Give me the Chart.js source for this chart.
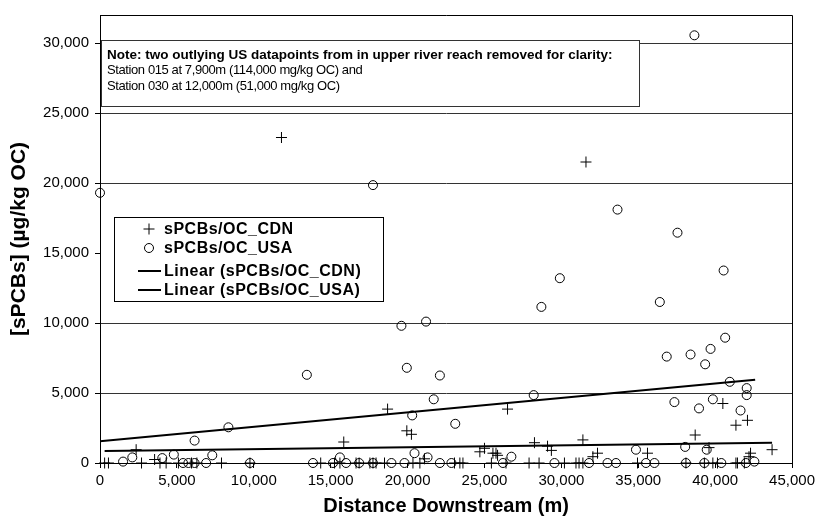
<!DOCTYPE html>
<html>
<head>
<meta charset="utf-8">
<script src="https://cdn.jsdelivr.net/npm/chart.js@4.4.1/dist/chart.umd.min.js"></script>
<style>
  html, body { margin: 0; padding: 0; background: #fff; }
  #wrap { width: 819px; height: 521px; }
</style>
</head>
<body>
<div id="wrap"><canvas id="pcbChart" width="819" height="521"></canvas></div>
<script>
// values (distance in m, sPCBs in ug/kg OC)
const cdnX = [11800, 31600, 40500, 26500, 42100, 41350, 18700, 15850, 19950, 20250,
  2350, 28250, 29100, 29350, 31400, 38700, 39600, 35600, 42300, 43700,
  24700, 25000, 25550, 25750, 25850, 21100, 3550, 32050, 32350, 42200,
  300, 550, 2700, 3900, 4300, 5100, 5950, 6300, 7900, 9750,
  14350, 15250, 15600, 16650, 16850, 17550, 17750, 17950, 18500, 20350,
  20800, 23050, 23400, 23600, 25450, 26400, 27900, 28550, 30200, 30950,
  31150, 31400, 34950, 38100, 39300, 39850, 40150, 41350, 41450, 41900];
const cdnY = [23250, 21500, 4250, 3850, 3050, 2700, 3850, 1500, 2300, 2050,
  950, 1450, 1200, 900, 1650, 2000, 1100, 700, 700, 950,
  800, 1050, 700, 700, 550, 300, 250, 450, 700, 450,
  0, 0, 0, 0, 0, 0, 0, 0, 0, 0,
  0, 0, 0, 0, 0, 0, 0, 0, 0, 0,
  0, 0, 0, 0, 0, 0, 0, 0, 0, 0,
  0, 0, 0, 0, 0, 0, 0, 0, 0, 0];

const usaX = [0, 38650, 17750, 19600, 21200, 33650, 37550, 40550, 29900, 28700,
  36400, 40650, 36850, 38400, 39700, 39350, 22100, 40950, 42050, 42050,
  21700, 28200, 37350, 38950, 39850, 41650, 23100, 13450, 19950, 20300,
  8350, 6150, 1500, 2100, 4050, 4800, 5400, 5750, 6150, 6900,
  7300, 9750, 13850, 15150, 15600, 16000, 16850, 17750, 18950, 19800,
  20450, 21300, 22100, 22850, 26200, 26750, 29550, 31800, 33000, 33550,
  34850, 35500, 36050, 38050, 38100, 39300, 39450, 40400, 42000, 42550];
const usaY = [19300, 30550, 19850, 9800, 10100, 18100, 16450, 13750, 13200, 11150,
  11500, 8950, 7600, 7750, 8150, 7050, 6250, 5800, 5350, 4850,
  4550, 4850, 4350, 3900, 4550, 3750, 2800, 6300, 6800, 3400,
  2550, 1600, 100, 400, 350, 600, 0, 0, 0, 0,
  550, 0, 0, 0, 400, 0, 0, 0, 0, 0,
  700, 400, 0, 0, 0, 450, 0, 0, 0, 0,
  950, 0, 0, 1150, 0, 0, 950, 0, 0, 100];

// end points of the two linear trend lines
const cdnTrendX = [300, 43700];
const cdnTrendY = [850, 1450];
const usaTrendX = [0, 42600];
const usaTrendY = [1550, 5950];

const xTicks = [0, 5000, 10000, 15000, 20000, 25000, 30000, 35000, 40000, 45000];
const yTicks = [0, 5000, 10000, 15000, 20000, 25000, 30000];

const noteTitle = 'Note: two outlying US datapoints from in upper river reach removed for clarity:';
const noteLines = ['Station 015 at 7,900m (114,000 mg/kg OC) and', 'Station 030 at 12,000m (51,000 mg/kg OC)'];

const FONT = "'Liberation Sans', Arial, sans-serif";

function toPoints(xs, ys) {
  return xs.map((x, i) => ({ x: x, y: ys[i] }));
}

// plot frame, note box and legend drawn on the canvas
const chartExtras = {
  id: 'chartExtras',
  beforeDatasetsDraw(chart) {
    const { ctx, chartArea: a } = chart;
    ctx.save();
    ctx.strokeStyle = '#000';
    ctx.lineWidth = 1;
    ctx.beginPath();
    ctx.moveTo(a.left, a.top + 0.5);
    ctx.lineTo(Math.round(a.right) + 0.5, a.top + 0.5);
    ctx.lineTo(Math.round(a.right) + 0.5, a.bottom + 4);
    ctx.stroke();
    // y axis crosses a little below the x axis
    ctx.beginPath();
    ctx.moveTo(Math.round(a.left) + 0.5, a.bottom);
    ctx.lineTo(Math.round(a.left) + 0.5, a.bottom + 4);
    ctx.stroke();
    ctx.restore();
  },
  afterDatasetsDraw(chart) {
    const { ctx, chartArea: a } = chart;
    ctx.save();

    // note box
    const nx = a.left + 1.5, ny = 40.5, nw = 538, nh = 66;
    ctx.fillStyle = '#fff';
    ctx.fillRect(nx, ny, nw, nh);
    ctx.strokeStyle = '#333';
    ctx.lineWidth = 1;
    ctx.strokeRect(nx, ny, nw, nh);
    ctx.fillStyle = '#000';
    ctx.textBaseline = 'middle';
    ctx.textAlign = 'left';
    ctx.font = 'bold 13.5px ' + FONT;
    ctx.fillText(noteTitle, a.left + 7, 55);
    ctx.font = '13px ' + FONT;
    if ('letterSpacing' in ctx) ctx.letterSpacing = '-0.4px';
    noteLines.forEach((t, i) => ctx.fillText(t, a.left + 7, 70 + i * 16));

    // legend box
    const lx = 114.5, ly = 217.5, lw = 269, lh = 84;
    ctx.fillStyle = '#fff';
    ctx.fillRect(lx, ly, lw, lh);
    ctx.strokeStyle = '#000';
    ctx.strokeRect(lx, ly, lw, lh);
    const rows = [229, 248, 271, 290];
    ctx.font = 'bold 16px ' + FONT;
    if ('letterSpacing' in ctx) ctx.letterSpacing = '0.5px';
    chart.data.datasets.forEach((ds, i) => {
      const y = rows[i];
      ctx.strokeStyle = '#000';
      if (ds.type === 'line') {
        ctx.lineWidth = 2;
        ctx.beginPath();
        ctx.moveTo(138, y);
        ctx.lineTo(161, y);
        ctx.stroke();
      } else {
        ctx.lineWidth = 1;
        ctx.fillStyle = '#fff';
        Chart.helpers.drawPoint(ctx, {
          pointStyle: ds.pointStyle, radius: ds.pointRadius, borderWidth: 1
        }, 149, y);
      }
      ctx.fillStyle = '#000';
      ctx.fillText(ds.label, 164, y + 1);
    });
    if ('letterSpacing' in ctx) ctx.letterSpacing = '0px';
    ctx.restore();
  }
};

const ctxPcb = document.getElementById('pcbChart').getContext('2d');
const pcbChart = new Chart(ctxPcb, {
  type: 'scatter',
  data: {
    datasets: [{
      label: 'sPCBs/OC_CDN',
      data: toPoints(cdnX, cdnY),
      pointStyle: 'cross',
      pointRadius: 5.5,
      borderColor: '#000',
      backgroundColor: 'rgba(0,0,0,0)',
      borderWidth: 1
    }, {
      label: 'sPCBs/OC_USA',
      data: toPoints(usaX, usaY),
      pointStyle: 'circle',
      pointRadius: 4.5,
      borderColor: '#000',
      backgroundColor: 'rgba(0,0,0,0)',
      borderWidth: 1
    }, {
      type: 'line',
      label: 'Linear (sPCBs/OC_CDN)',
      data: toPoints(cdnTrendX, cdnTrendY),
      borderColor: '#000',
      borderWidth: 2,
      pointRadius: 0,
      fill: false
    }, {
      type: 'line',
      label: 'Linear (sPCBs/OC_USA)',
      data: toPoints(usaTrendX, usaTrendY),
      borderColor: '#000',
      borderWidth: 2,
      pointRadius: 0,
      fill: false
    }]
  },
  options: {
    responsive: false,
    animation: false,
    events: [],
    clip: false,
    layout: { padding: { top: 12, right: 26, left: 0, bottom: 0 } },
    plugins: {
      legend: { display: false },
      tooltip: { enabled: false }
    },
    scales: {
      x: {
        type: 'linear',
        min: 0,
        max: 45000,
        afterBuildTicks: s => { s.ticks = xTicks.map(v => ({ value: v })); },
        afterFit: s => { s.height = 58; },
        border: { display: true, color: '#000', width: 1 },
        grid: { drawOnChartArea: false, color: '#000', tickLength: 5 },
        ticks: {
          color: '#000',
          font: { family: FONT, size: 15 },
          padding: 4,
          maxRotation: 0,
          callback: v => v.toLocaleString('en-US')
        },
        title: {
          display: true,
          text: 'Distance Downstream (m)',
          color: '#000',
          font: { family: FONT, size: 20, weight: 'bold' },
          padding: { top: 0, bottom: 3 }
        }
      },
      y: {
        type: 'linear',
        min: 0,
        max: 32000,
        afterBuildTicks: s => { s.ticks = yTicks.map(v => ({ value: v })); },
        afterFit: s => { s.width = 100; },
        border: { display: true, color: '#000', width: 1 },
        grid: {
          color: c => (c.tick && c.tick.value === 15000) ? 'rgba(0,0,0,0)' : '#333',
          tickColor: '#000',
          tickLength: 5
        },
        ticks: {
          color: '#000',
          font: { family: FONT, size: 15 },
          padding: 6,
          callback: v => v.toLocaleString('en-US')
        },
        title: {
          display: true,
          text: '[sPCBs] (µg/kg OC)',
          color: '#000',
          font: { family: FONT, size: 21, weight: 'bold' },
          padding: { top: 7, bottom: 0 }
        }
      }
    }
  },
  plugins: [chartExtras]
});
</script>
</body>
</html>
